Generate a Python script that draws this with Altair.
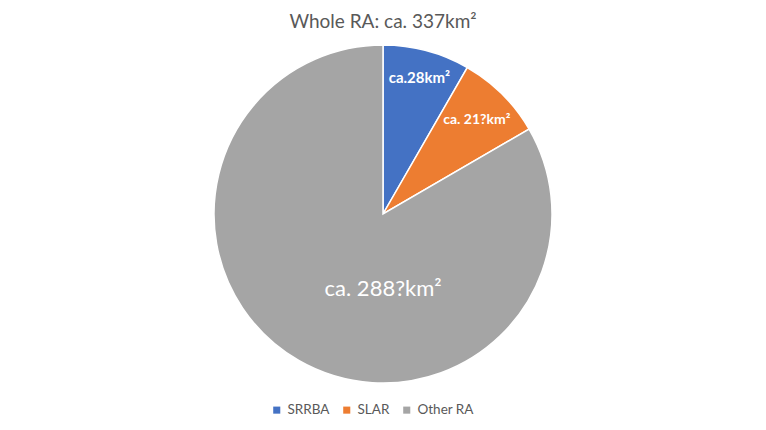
import altair as alt
import pandas as pd

categories = ["SRRBA", "SLAR", "Other RA"]
values = [28, 28, 281]
labels = ["ca.28km²", "ca. 21?km²", "ca. 288?km²"]
colors = ["#4472C4", "#ED7D31", "#A5A5A5"]
title_text = "Whole RA: ca. 337km²"

df = pd.DataFrame({
    "category": categories,
    "value": values,
    "label": labels,
    "idx": list(range(len(categories))),
})

FONT = "Lato"
TXT = "#595959"
CX, CY = 375, 206

base = alt.Chart(df).encode(
    theta=alt.Theta("value:Q", stack=True),
    order=alt.Order("idx:Q", sort="ascending"),
    x=alt.value(CX),
    y=alt.value(CY),
)

pie = base.mark_arc(outerRadius=169, stroke="white", strokeWidth=1.5).encode(
    color=alt.Color(
        "category:N",
        scale=alt.Scale(domain=categories, range=colors),
        sort=categories,
        legend=alt.Legend(
            title=None,
            orient="none",
            legendX=262,
            legendY=395,
            direction="horizontal",
            symbolType="square",
            symbolSize=50,
            symbolStrokeWidth=0,
            labelFont=FONT,
            labelFontSize=13.5,
            labelColor=TXT,
            labelOffset=4,
            padding=0,
            columnPadding=10,
        ),
    )
)

def lab(cat, radius, size, weight, dx=0, dy=0):
    return base.mark_text(
        radius=radius, font=FONT, fontSize=size, fontWeight=weight,
        color="white", baseline="middle", align="center", dx=dx, dy=dy,
    ).encode(
        text=alt.condition(f"datum.category == '{cat}'", "label:N", alt.value(""))
    )

t1 = lab("SRRBA", 141, 15, "bold")
t2 = lab("SLAR", 133, 14, "bold")
t3 = lab("Other RA", 78, 22, "normal", dx=39, dy=7)

title = alt.Chart(pd.DataFrame({"t": [title_text]})).mark_text(
    font=FONT, fontSize=19, color=TXT, baseline="middle", align="center"
).encode(text="t:N", x=alt.value(375), y=alt.value(14))

chart = alt.layer(pie, t1, t2, t3, title).properties(
    width=750, height=414, padding=0, autosize="none"
).configure_view(stroke=None)

chart.save("out.html", embed_options={"renderer": "svg", "actions": False})
